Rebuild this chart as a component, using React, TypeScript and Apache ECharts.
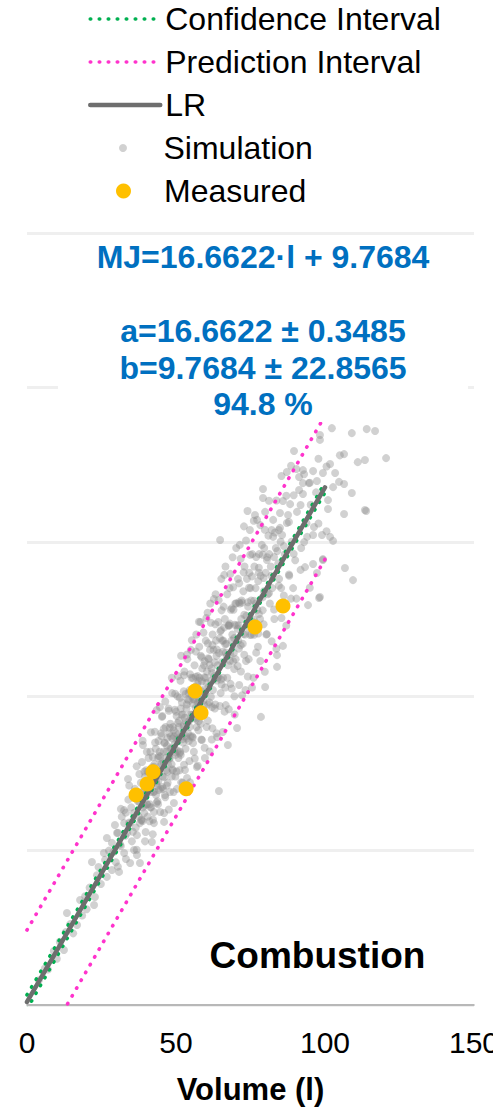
import React, { useEffect, useRef } from "react";
import * as echarts from "echarts";

const FONT = "'Liberation Sans', Arial, Helvetica, sans-serif";

// ---------- data ----------
const xTicks = [0, 50, 100, 150];
const yGrid = [0, 500, 1000, 1500, 2000, 2500];

const lineX = [0, 10, 20, 30, 40, 50, 60, 70, 80, 90, 100];
const lrY = [9.8, 176.4, 343.0, 509.6, 676.3, 842.9, 1009.5, 1176.1, 1342.7, 1509.4, 1676.0];
const ciUpper = [32.7, 196.1, 359.6, 523.4, 687.6, 852.4, 1018.3, 1185.5, 1353.8, 1522.9, 1692.3];
const ciLower = [-13.1, 156.7, 326.4, 495.8, 665.0, 833.4, 1000.7, 1166.7, 1331.6, 1495.9, 1659.7];
const piUpper = [242.8, 409.3, 575.6, 742.0, 908.6, 1075.1, 1241.7, 1408.3, 1575.0, 1741.8, 1908.6];
const piLower = [-223.2, -56.5, 110.4, 277.2, 444.0, 610.7, 777.3, 943.9, 1110.4, 1277.0, 1443.4];

const measured: [number, number][] = [
  [85.9, 1292], [76.5, 1224], [56.4, 1017], [58.4, 946],
  [42.3, 755], [40.3, 716], [36.6, 680], [53.4, 700],
];

const simulation: [number, number][] = [
  [4, 80], [6, 118], [7, 115], [9, 175], [10, 150], [11, 205], [12.4, 178], [13, 236], [13.4, 298], [14.5, 262],
  [15.5, 232], [16.8, 259], [17.8, 340], [18.5, 290], [19.5, 352], [20, 310],
  [21, 380], [21.8, 463], [22.5, 324], [22.8, 350], [23.5, 420], [24, 447], [24.8, 392], [25.8, 492], [26.2, 470],
  [26.8, 415], [26.8, 541], [27.5, 500], [28.5, 437], [28.5, 525], [29, 495], [29.5, 583], [29.8, 462], [30.2, 557],
  [30.9, 431], [31.2, 520], [31.8, 610], [32.6, 492], [32.6, 589], [32.6, 631], [33, 548], [33.6, 557], [33.9, 732],
  [34, 665], [34.6, 460], [34.6, 589], [35, 640], [35.2, 530], [35.9, 502], [35.9, 622], [36.2, 700], [36.5, 575],
  [36.9, 486], [36.9, 550], [37.2, 660], [37.5, 610], [37.9, 460], [37.9, 589], [38.2, 720], [38.6, 787], [38.9, 842],
  [39, 640], [39.3, 622], [39.5, 700], [39.8, 560], [40, 760], [40, 680],
  [40.5, 610], [40.8, 800], [41, 720], [41.2, 650], [41.5, 690], [41.9, 528], [42, 770], [42.3, 600], [42.6, 589],
  [42.6, 625], [43, 740], [43, 850], [43.3, 680], [43.6, 710], [44, 800], [44, 650], [44.3, 760], [44.6, 965],
  [44.8, 700], [45, 880], [45.3, 933], [45.5, 740], [45.8, 820], [46, 593], [46, 622], [46.3, 680], [46.5, 900],
  [46.8, 760], [47, 840], [47.2, 720], [47.5, 960], [47.8, 800], [48, 690], [48.2, 870], [48.5, 780], [48.7, 1010],
  [49, 900], [49.3, 654], [49.5, 830], [49.8, 740], [50, 950], [50, 880],
  [50.3, 700], [50.5, 1000], [50.8, 800], [51, 920], [51.2, 760], [51.5, 1050], [51.8, 870], [52, 980], [52.2, 720],
  [52.5, 900], [52.8, 1080], [53, 761], [53.2, 830], [53.5, 960], [53.8, 1120], [54, 880], [54.2, 1010], [54.5, 790],
  [54.8, 940], [55, 1150], [55.2, 1060], [55.5, 870], [55.8, 990], [56, 820], [56.2, 1100], [56.5, 930], [56.8, 1200],
  [57, 771], [57.2, 1040], [57.5, 890], [57.8, 1160], [58, 980], [58.2, 1240], [58.5, 860], [58.8, 1090], [59, 1020],
  [59.3, 940], [59.7, 800], [60, 1180], [60, 1060],
  [60.3, 900], [60.6, 1270], [61, 1120], [61.2, 980], [61.5, 1300], [61.8, 1050], [62, 860], [62.3, 1200], [62.6, 1150],
  [63, 960], [63.3, 1330], [63.8, 868], [64, 1100], [64.2, 1240], [64.4, 693], [64.8, 1506], [65, 1010], [65.2, 1380],
  [65.5, 1180], [65.8, 1060], [66, 1290], [66.3, 950], [66.6, 1420], [67, 1130], [67.4, 842], [67.6, 1230], [68, 1350],
  [68.3, 1040], [68.6, 1180], [69, 1450], [69.3, 1280], [69.6, 1000], [70, 1120], [70.5, 897],
  [70.8, 1380], [71, 1230], [71.4, 1490], [71.8, 1080], [72, 1310], [72.4, 1170], [72.8, 1550], [73, 1420], [73.3, 1020],
  [73.6, 1260], [74, 1600], [74.4, 1120], [74.8, 1538], [75, 1350], [75.3, 1200], [75.6, 1460], [76, 1060], [76.5, 1587],
  [76.8, 1300], [77.2, 1571], [77.5, 1160], [77.8, 1400], [78.2, 1250], [78.5, 933], [78.8, 1490], [79.2, 1671],
  [79.2, 1642], [79.5, 1340], [79.9, 1030], [79.9, 1597],
  [80.3, 1200], [80.6, 1450], [81, 1520], [81.5, 1300], [82, 1390], [82.6, 1571], [82.6, 1516], [83, 1250], [83.5, 1480],
  [83.9, 1095], [83.9, 1133], [84.3, 1430], [84.9, 1593], [84.9, 1545], [85.3, 1350], [85.6, 1522], [85.9, 1632],
  [85.9, 1163], [86.5, 1460], [87.2, 1726], [87.2, 1561], [87.6, 1587], [88, 1390], [88.3, 1622], [88.8, 1500],
  [89.3, 1350], [89.6, 1794], [90, 1440],
  [90.6, 1597], [91.3, 1710], [91.3, 1668], [92, 1480], [92.6, 1732], [92.6, 1690], [92.6, 1655], [93.3, 1418],
  [93.8, 1560], [94, 1516], [94.3, 1295], [94.6, 1690], [95.2, 1620], [96, 1729], [96, 1522], [96, 1428], [96.3, 1548],
  [97, 1660], [97.3, 1697], [97.3, 1399], [98, 1318], [98.3, 1846], [98.3, 1830], [98.3, 1321], [99, 1522], [99.3, 1723],
  [99.3, 1441], [99.3, 1444],
  [101, 1635], [101, 1606], [101.7, 1752], [101.7, 1516], [102.3, 1868], [102.7, 1677], [102.7, 1503], [103.4, 1723],
  [104.7, 1694], [105, 1780], [106.4, 1784], [106.4, 1687], [106.4, 1590], [106.7, 1415], [109, 1852], [109, 1658],
  [109.4, 1376], [111, 1758], [113.4, 1765], [113.4, 1603], [113.8, 1600], [114, 1865], [116.8, 1859], [120.5, 1771],
  [38.5, 600], [39.2, 680], [40.3, 650], [40.7, 720], [41.3, 760], [41.7, 640], [42.4, 690], [42.8, 780], [43.4, 720],
  [43.8, 660], [44.5, 820], [45.2, 780], [45.7, 700], [46.2, 850], [46.6, 800], [47.3, 780], [47.7, 880], [48.4, 830],
  [48.9, 760], [49.4, 870], [49.9, 810],
  [50.4, 860], [50.9, 900], [51.4, 820], [51.9, 940], [52.4, 850], [52.9, 930], [53.4, 870], [53.9, 990], [54.4, 920],
  [54.9, 870], [55.4, 1000], [55.9, 940], [56.4, 1030], [56.9, 900], [57.4, 980], [57.9, 1060], [58.4, 1000],
  [58.9, 950], [59.4, 1100], [59.9, 1010],
  [60.4, 1080], [60.9, 1030], [61.4, 1150], [61.9, 1090], [62.4, 1020], [62.9, 1110], [63.4, 1180], [63.9, 1060],
  [64.4, 1140], [64.9, 1210], [65.4, 1110], [65.9, 1180], [66.4, 1250], [66.9, 1170], [67.4, 1100], [67.9, 1230],
  [68.4, 1280], [68.9, 1200], [69.4, 1140], [69.9, 1300], [70.4, 1230], [70.9, 1180], [71.4, 1300], [71.9, 1250],
  [72.6, 1340], [73.2, 1200], [73.8, 1380], [74.2, 1290], [74.6, 1400], [75.2, 1310], [75.8, 1240], [76.3, 1420],
  [76.7, 1350], [77.3, 1280], [77.9, 1460], [78.4, 1390], [79, 1320], [79.6, 1480], [80.1, 1400], [80.8, 1330],
  [81.3, 1460], [81.8, 1420], [82.3, 1350], [83.2, 1530], [84, 1470], [84.6, 1380], [85.1, 1500],
  [30.5, 558], [30.5, 448], [31.5, 635], [31.5, 515], [33.2, 623], [33.2, 473], [34.3, 711], [34.3, 591],
  [35.5, 561], [35.5, 681], [36.8, 773], [36.8, 503], [37.7, 658], [37.7, 748], [38.8, 596], [38.8, 856],
  [39.6, 740], [39.6, 530], [40.2, 820], [40.2, 650], [41.1, 755], [41.1, 595], [41.6, 883], [41.6, 713],
  [42.2, 553], [42.2, 803], [42.9, 755], [42.9, 885], [43.5, 655], [43.5, 955], [44.1, 855], [44.1, 725],
  [44.7, 625], [44.7, 805], [45.4, 936], [45.4, 706], [45.9, 785], [45.9, 895], [46.4, 673], [46.4, 983],
  [47.1, 865], [47.1, 755], [47.6, 953], [47.6, 633], [48.1, 831], [48.1, 911], [48.6, 740], [48.6, 1060],
  [49.2, 890], [49.2, 690], [49.7, 1008], [49.7, 818], [50.2, 936], [50.2, 756], [50.7, 1065], [50.7, 875],
  [51.3, 815], [51.3, 995], [51.7, 1131], [51.7, 721], [52.3, 941], [52.3, 861], [52.7, 1068], [52.7, 778],
  [53.3, 918], [53.3, 1008], [53.7, 735], [53.7, 1135], [54.3, 985], [54.3, 855], [54.7, 1071], [54.7, 721],
  [55.3, 941], [55.3, 1181], [55.7, 848], [55.7, 1058], [56.3, 988], [56.3, 798], [56.7, 1145], [56.7, 925],
  [57.3, 1065], [57.3, 775], [57.7, 1241], [57.7, 991], [58.3, 911], [58.3, 1131], [58.7, 1048], [58.7, 858],
  [59.2, 1206], [59.2, 986], [59.6, 833], [59.6, 1113], [60.2, 1043], [60.2, 1253], [60.7, 921], [60.7, 1171],
  [61.3, 1101], [61.3, 821], [61.7, 1238], [61.7, 998], [62.2, 1166], [62.2, 896], [62.7, 1065], [62.7, 1315],
  [63.2, 973], [63.2, 1233], [63.6, 1130], [63.6, 880], [64.3, 1311], [64.3, 1061], [64.7, 1188], [64.7, 968],
  [65.3, 1038], [65.3, 1278], [65.7, 1144], [65.7, 884], [66.2, 1393], [66.2, 1223], [66.7, 971], [66.7, 1141],
  [67.2, 1330], [67.2, 1060], [67.7, 1228], [67.7, 958], [68.2, 1396], [68.2, 1136], [68.7, 1285], [68.7, 1025],
  [69.2, 1113], [69.2, 1353], [69.7, 1231], [69.7, 941], [70.2, 1480], [70.2, 1300], [70.7, 1098], [70.7, 1218],
  [71.2, 1366], [71.2, 1036], [71.7, 1445], [71.7, 1165], [72.2, 1303], [72.2, 1003], [72.7, 1401], [72.7, 1201],
  [73.5, 1504], [73.5, 1114], [74.1, 1304], [74.1, 1064], [74.9, 1458], [74.9, 1198], [75.5, 1388], [75.5, 1028],
  [76.1, 1568], [76.1, 1248], [76.9, 1451], [76.9, 1141], [77.6, 1373], [77.6, 1203], [78.3, 1554], [78.3, 1114],
  [79.1, 1458], [79.1, 1278], [79.8, 1539], [79.8, 1079], [80.5, 1441], [80.5, 1201], [81.2, 1633], [81.2, 1333],
  [82.1, 1538], [82.1, 1178], [82.9, 1451], [82.9, 1281], [83.7, 1634], [83.7, 1154], [84.5, 1538], [84.5, 1358],
  [85.4, 1713], [85.4, 1253], [86.2, 1486], [86.2, 1326], [87.0, 1649], [87.0, 1229], [87.9, 1564], [87.9, 1394],
  [88.6, 1746], [88.6, 1316], [89.5, 1651], [89.5, 1461], [90.4, 1736], [90.4, 1316], [91.8, 1619], [91.8, 1409],
  [93.0, 1719], [93.0, 1499], [94.9, 1691], [94.9, 1351], [97.8, 1769], [97.8, 1559], [100.5, 1744], [100.5, 1534],
  [38.3, 688], [38.3, 598], [39.4, 756], [39.4, 646], [40.6, 696], [40.6, 756], [41.4, 640], [41.4, 820],
  [42.7, 771], [42.7, 691], [43.2, 830], [43.2, 730], [44.2, 696], [44.2, 806], [45.1, 781], [45.1, 871],
  [46.1, 738], [46.1, 848], [46.9, 821], [46.9, 711], [47.9, 898], [47.9, 798], [48.8, 863], [48.8, 763],
  [49.6, 956], [49.6, 846], [50.6, 823], [50.6, 913], [51.6, 960], [51.6, 810], [52.6, 906], [52.6, 1016],
  [53.6, 863], [53.6, 973], [54.6, 1020], [54.6, 900], [55.6, 976], [55.6, 866], [56.6, 1063], [56.6, 963],
  [57.6, 919], [57.6, 1049], [58.6, 1016], [58.6, 1126], [59.5, 971], [59.5, 1061], [60.8, 1123], [60.8, 973],
  [62.1, 1075], [62.1, 965], [63.7, 1151], [63.7, 1051], [65.1, 1214], [65.1, 1054], [66.5, 1168], [66.5, 1028],
  [68.1, 1235], [68.1, 1115], [69.5, 1188], [69.5, 1088], [71.1, 1304], [71.1, 1154], [72.9, 1264], [72.9, 1134],
  [74.5, 1351], [74.5, 1221], [76.2, 1309], [76.2, 1199], [77.8, 1416], [77.8, 1266], [79.4, 1383], [79.4, 1233],
];

const equationText = "MJ=16.6622·l + 9.7684";
const paramLines = ["a=16.6622 ± 0.3485", "b=9.7684 ± 22.8565", "94.8 %"];
const paramY = [331, 368, 404];
const panelLabel = "Combustion";
const xAxisName = "Volume (l)";

const zip = (xs: number[], ys: number[]) => xs.map((x, i) => [x, ys[i]]);

const CI_COLOR = "#00B050";
const PI_COLOR = "#FF33CC";
const LR_COLOR = "#6e6e6e";

export default function App() {
  const ref = useRef<HTMLDivElement>(null);
  useEffect(() => {
    if (!ref.current) return;
    const chart = echarts.init(ref.current, null, { renderer: "svg" });
    const dotted = (color: string) => ({
      color,
      width: 3.6,
      type: [0.5, 8.5] as number[],
      cap: "round" as const,
    });
    const lrStyle = { color: LR_COLOR, width: 4.5, cap: "round" as const };
    const legendText = { fontSize: 32, color: "#000", fontFamily: FONT };
    chart.setOption({
      animation: false,
      textStyle: { fontFamily: FONT },
      grid: { left: 27, right: 19, top: 233, bottom: 102, outerBoundsMode: "none", containLabel: false },
      legend: [
        {
          data: [
            { name: "Confidence Interval", itemStyle: { opacity: 0 }, lineStyle: dotted(CI_COLOR) },
            { name: "Prediction Interval", itemStyle: { opacity: 0 }, lineStyle: dotted(PI_COLOR) },
            { name: "LR", itemStyle: { opacity: 0 }, lineStyle: lrStyle },
          ],
          orient: "vertical", left: 88, top: 3, padding: 0,
          itemWidth: 70, itemHeight: 14, itemGap: 11,
          textStyle: legendText, selectedMode: false,
        },
        {
          data: ["Simulation"], orient: "vertical", left: 119, top: 132, padding: 0,
          itemWidth: 71, itemHeight: 8, textStyle: legendText, selectedMode: false,
        },
        {
          data: ["Measured"], orient: "vertical", left: 116, top: 175, padding: 0,
          itemWidth: 71, itemHeight: 15, textStyle: legendText, selectedMode: false,
        },
      ],
      xAxis: {
        type: "value", min: xTicks[0], max: xTicks[xTicks.length - 1], interval: 50,
        axisLine: { lineStyle: { color: "#a6a6a6", width: 1.5 } },
        axisTick: { show: false },
        splitLine: { show: false },
        axisLabel: { fontSize: 30, color: "#000", margin: 22, fontFamily: FONT },
        name: xAxisName, nameLocation: "middle", nameGap: 69,
        nameTextStyle: { fontSize: 31, fontWeight: "bold", color: "#000", fontFamily: FONT },
      },
      yAxis: {
        type: "value", min: yGrid[0], max: yGrid[yGrid.length - 1], interval: 500,
        axisLabel: { show: false }, axisLine: { show: false }, axisTick: { show: false },
        splitLine: { lineStyle: { color: "#efefef", width: 3 } },
      },
      series: [
        {
          name: "Simulation", type: "scatter", data: simulation, symbolSize: 8,
          itemStyle: { color: "#8c8c8c", opacity: 0.4 }, z: 2,
        },
        {
          name: "Confidence Interval", type: "line", data: zip(lineX, ciUpper), symbol: "none",
          itemStyle: { color: CI_COLOR }, lineStyle: dotted(CI_COLOR), z: 3,
        },
        {
          name: "Confidence Interval", type: "line", data: zip(lineX, ciLower), symbol: "none",
          itemStyle: { color: CI_COLOR }, lineStyle: dotted(CI_COLOR), z: 3,
        },
        {
          name: "Prediction Interval", type: "line", data: zip(lineX, piUpper), symbol: "none",
          itemStyle: { color: PI_COLOR }, lineStyle: dotted(PI_COLOR), z: 3,
        },
        {
          name: "Prediction Interval", type: "line", data: zip(lineX, piLower), symbol: "none",
          itemStyle: { color: PI_COLOR }, lineStyle: dotted(PI_COLOR), z: 3,
        },
        {
          name: "LR", type: "line", data: zip(lineX, lrY), symbol: "none",
          itemStyle: { color: LR_COLOR }, lineStyle: lrStyle, z: 4,
        },
        {
          name: "Measured", type: "scatter", data: measured, symbolSize: 15,
          itemStyle: { color: "#FFC000", opacity: 1 }, z: 5,
        },
      ],
      graphic: [
        {
          type: "rect", z: 50, silent: true,
          shape: { x: 58, y: 236, width: 410, height: 186 },
          style: { fill: "#ffffff" },
        },
        {
          type: "text", z: 51, x: 263, y: 256.5,
          style: {
            text: equationText, fill: "#0070C0", font: `bold 32px ${FONT}`,
            align: "center", verticalAlign: "middle",
          },
        },
        ...paramLines.map((t, i) => ({
          type: "text", z: 51, x: 263, y: paramY[i],
          style: {
            text: t, fill: "#0070C0", font: `bold 32px ${FONT}`,
            align: "center", verticalAlign: "middle",
          },
        })),
        {
          type: "text", z: 51, x: 317.5, y: 955,
          style: {
            text: panelLabel, fill: "#000", font: `bold 37px ${FONT}`,
            align: "center", verticalAlign: "middle",
          },
        },
      ],
    });
    return () => chart.dispose();
  }, []);
  return (
    <div
      ref={ref}
      style={{ position: "fixed", left: 0, top: 0, width: 493, height: 1107, background: "#fff" }}
    />
  );
}
